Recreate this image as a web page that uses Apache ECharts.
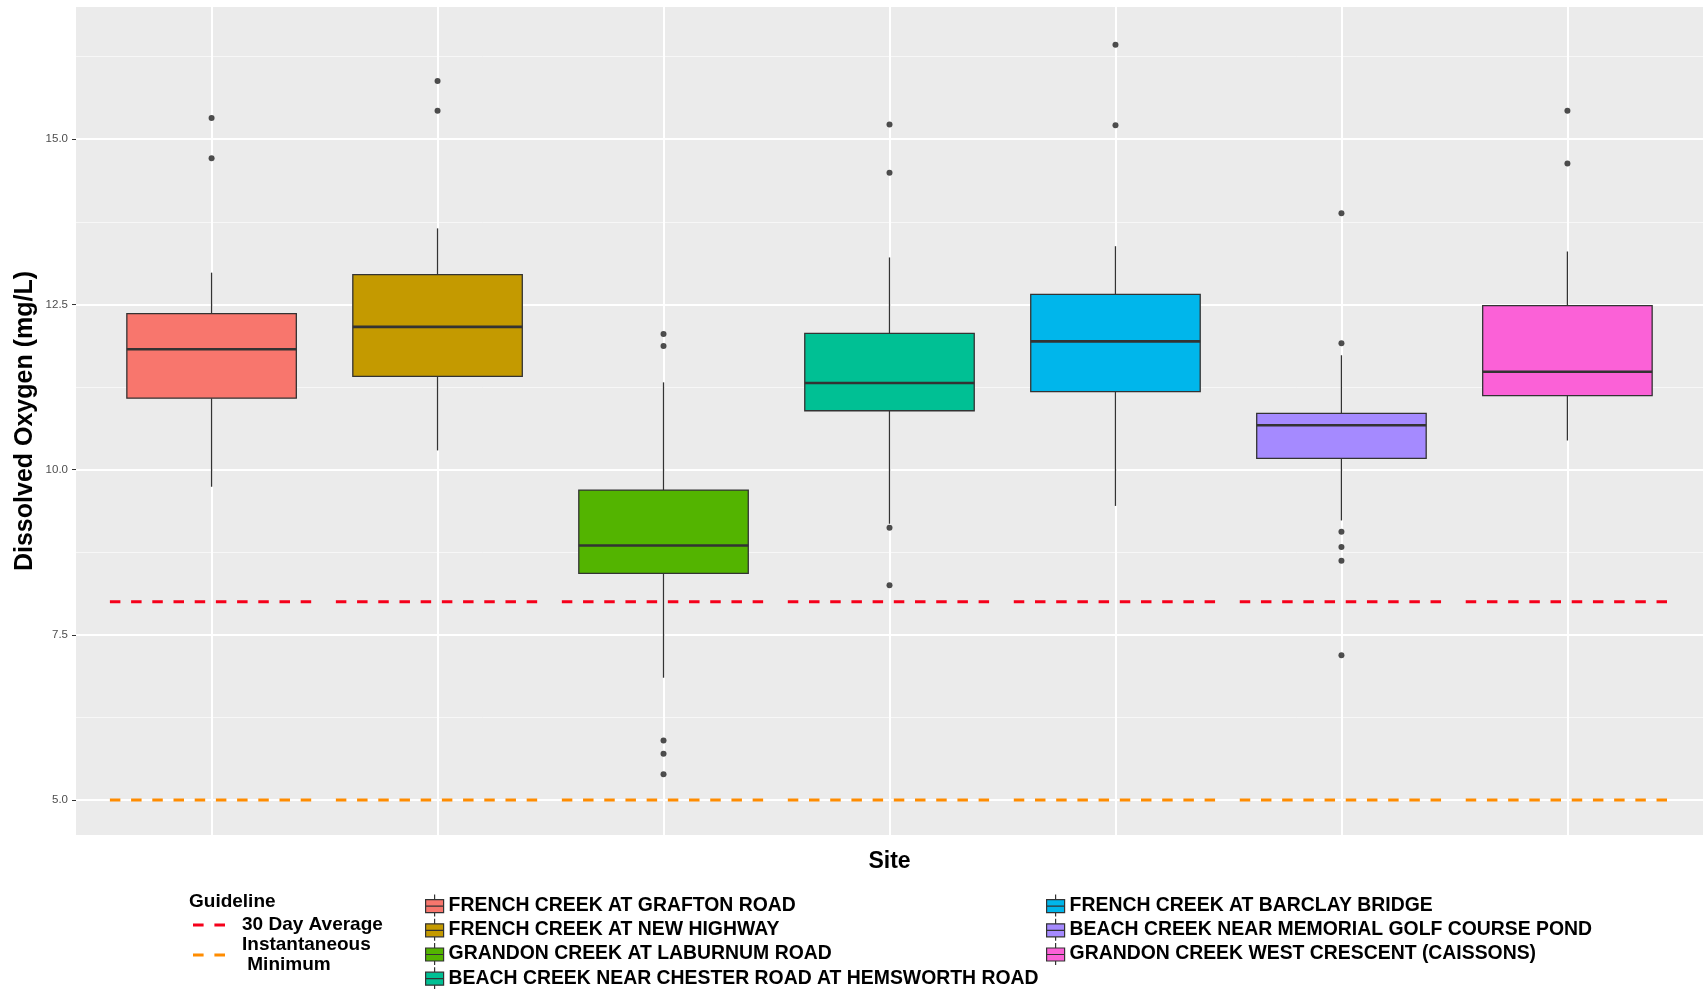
<!DOCTYPE html>
<html><head><meta charset="utf-8">
<script src="https://cdn.jsdelivr.net/npm/echarts@6/dist/echarts.min.js"></script>
<style>html,body{margin:0;padding:0;background:#fff}#chart{width:1706px;height:989px}</style>
</head><body><div id="chart"></div>
<script>
// ---- data ----
const sites = [
  'FRENCH CREEK AT GRAFTON ROAD',
  'FRENCH CREEK AT NEW HIGHWAY',
  'GRANDON CREEK AT LABURNUM ROAD',
  'BEACH CREEK NEAR CHESTER ROAD AT HEMSWORTH ROAD',
  'FRENCH CREEK AT BARCLAY BRIDGE',
  'BEACH CREEK NEAR MEMORIAL GOLF COURSE POND',
  'GRANDON CREEK WEST CRESCENT (CAISSONS)'
];
const lowerWhisker = [9.74, 10.29, 6.85, 9.18, 9.45, 9.23, 10.44];
const q1Values     = [11.08, 11.41, 8.43, 10.89, 11.18, 10.17, 11.12];
const medianValues = [11.82, 12.16, 8.85, 11.31, 11.94, 10.67, 11.48];
const q3Values     = [12.36, 12.95, 9.69, 12.06, 12.65, 10.85, 12.48];
const upperWhisker = [12.98, 13.65, 11.32, 13.21, 13.38, 11.73, 13.30];
const outlierValues = [
  [15.32, 14.71],
  [15.88, 15.43],
  [12.05, 11.87, 5.90, 5.70, 5.39],
  [15.22, 14.49, 9.12, 8.25],
  [16.43, 15.21],
  [13.88, 11.91, 9.06, 8.83, 8.62, 7.19],
  [15.43, 14.63]
];
const guidelineNames  = ['30 Day Average', 'Instantaneous\n Minimum'];
const guidelineValues = [8, 5];
const yTicks      = [5.0, 7.5, 10.0, 12.5, 15.0];
const yMinorTicks = [6.25, 8.75, 11.25, 13.75, 16.25];

// ---- style ----
const siteColors = ['#F8766D', '#C49A00', '#53B400', '#00C094', '#00B6EB', '#A58AFF', '#FB61D7'];
const guidelineColors = ['#F5001A', '#FF8C00'];
const FONT = '"Liberation Sans", Arial, sans-serif';
const boxHalf = 0.375;
const guideHalf = 0.45;
const boxIcon = 'path://M9,0L9,5M0,5L18,5L18,18L0,18ZM0,11.5L18,11.5M9,18L9,22';
const dashIcon = 'path://M0,0L10.5,0L10.5,3L0,3ZM21.2,0L31.7,0L31.7,3L21.2,3Z';

const xPositions = sites.map((s, i) => i + 1);

function renderBox(params, api) {
  const x = api.value(0);
  const lw = api.value(1), q1 = api.value(2), md = api.value(3), q3 = api.value(4), uw = api.value(5);
  const color = api.visual('color');
  const pl = api.coord([x - boxHalf, q1]);
  const pr = api.coord([x + boxHalf, q3]);
  const pc = api.coord([x, lw]);
  const yuw = api.coord([x, uw])[1];
  const ymd = api.coord([x, md])[1];
  const xl = pl[0], yq1 = pl[1], xr = pr[0], yq3 = pr[1], xc = pc[0], ylw = pc[1];
  return {
    type: 'group',
    children: [
      { type: 'line', shape: { x1: xc, y1: yuw, x2: xc, y2: yq3 }, style: { stroke: '#333', lineWidth: 1.3 } },
      { type: 'line', shape: { x1: xc, y1: yq1, x2: xc, y2: ylw }, style: { stroke: '#333', lineWidth: 1.3 } },
      { type: 'rect', shape: { x: xl, y: yq3, width: xr - xl, height: yq1 - yq3 }, style: { fill: color, stroke: '#333', lineWidth: 1.3 } },
      { type: 'line', shape: { x1: xl, y1: ymd, x2: xr, y2: ymd }, style: { stroke: '#333', lineWidth: 2.6 } }
    ]
  };
}

const boxSeries = sites.map((name, i) => ({
  name: name,
  type: 'custom',
  renderItem: renderBox,
  itemStyle: { color: siteColors[i] },
  encode: { x: 0, y: [1, 2, 3, 4, 5] },
  data: [[xPositions[i], lowerWhisker[i], q1Values[i], medianValues[i], q3Values[i], upperWhisker[i]]],
  z: 3
}));

const outlierSeries = {
  name: 'outliers',
  type: 'scatter',
  symbol: 'circle',
  symbolSize: 6,
  itemStyle: { color: '#222' },
  data: outlierValues.flatMap((arr, i) => arr.map(v => [xPositions[i], v])),
  z: 4
};

const guideSeries = guidelineNames.map((name, g) => ({
  name: name,
  type: 'line',
  symbol: 'none',
  connectNulls: false,
  lineStyle: { color: guidelineColors[g], width: 3, type: [10.5, 10.7] },
  itemStyle: { color: guidelineColors[g] },
  data: xPositions.flatMap(x => [[x - guideHalf, guidelineValues[g]], [x + guideHalf, guidelineValues[g]], [x, null]]),
  z: 5
}));

const guideText = { fontFamily: FONT, fontWeight: 'bold', fontSize: 19, color: '#000' };
const siteText = { fontFamily: FONT, fontWeight: 'bold', fontSize: 19.4, color: '#000' };

const option = {
  animation: false,
  backgroundColor: '#fff',
  grid: { left: 76, right: 3, top: 7, bottom: 154, show: true, backgroundColor: '#EBEBEB', borderWidth: 0 },
  xAxis: {
    type: 'value', min: 0.4, max: 7.6,
    name: 'Site', nameLocation: 'middle', nameGap: 15,
    nameTextStyle: { fontFamily: FONT, fontWeight: 'bold', fontSize: 23, color: '#000' },
    axisLine: { show: false },
    axisTick: { show: false, customValues: xPositions },
    axisLabel: { show: false, customValues: xPositions },
    splitLine: { show: true, lineStyle: { color: '#fff', width: 2 } }
  },
  yAxis: [{
    type: 'value', min: 4.47, max: 17.0,
    name: 'Dissolved Oxygen (mg/L)', nameLocation: 'middle', nameGap: 38, nameMoveOverlap: false,
    nameTextStyle: { fontFamily: FONT, fontWeight: 'bold', fontSize: 25, color: '#000' },
    axisLine: { show: false },
    axisTick: { show: true, length: 4, customValues: yTicks, lineStyle: { color: '#333', width: 1 } },
    axisLabel: { customValues: yTicks, margin: 8, fontFamily: FONT, fontSize: 11.5, color: '#4D4D4D', formatter: v => v.toFixed(1) },
    splitLine: { show: true, lineStyle: { color: '#fff', width: 2 } }
  }, {
    type: 'value', min: 4.47, max: 17.0, position: 'left',
    axisLine: { show: false },
    axisTick: { show: false, customValues: yMinorTicks },
    axisLabel: { show: false, customValues: yMinorTicks },
    splitLine: { show: true, lineStyle: { color: '#F7F7F7', width: 1 } }
  }],
  legend: [{
    data: guidelineNames.map(n => ({ name: n, icon: dashIcon })),
    orient: 'vertical', left: 193, top: 915, height: 120, padding: 0,
    itemWidth: 32, itemHeight: 20, itemGap: 0, selectedMode: false,
    textStyle: Object.assign({ lineHeight: 20, padding: [0, 0, 0, 12] }, guideText)
  }, {
    data: sites.slice(0, 4), orient: 'vertical', left: 425, top: 894, height: 150, padding: 0,
    itemWidth: 18, itemHeight: 22, itemGap: 1, selectedMode: false, icon: boxIcon,
    itemStyle: { borderColor: '#333', borderWidth: 1.2 },
    textStyle: Object.assign({ lineHeight: 22 }, siteText)
  }, {
    data: sites.slice(4), orient: 'vertical', left: 1046, top: 894, height: 150, padding: 0,
    itemWidth: 18, itemHeight: 22, itemGap: 1, selectedMode: false, icon: boxIcon,
    itemStyle: { borderColor: '#333', borderWidth: 1.2 },
    textStyle: Object.assign({ lineHeight: 22 }, siteText)
  }],
  graphic: [{
    type: 'text', left: 189, top: 892,
    style: { text: 'Guideline', font: 'bold 19px ' + FONT, fill: '#000' }
  }],
  series: boxSeries.concat([outlierSeries]).concat(guideSeries)
};

const chart = echarts.init(document.getElementById('chart'));
chart.setOption(option);
</script>
</body></html>
